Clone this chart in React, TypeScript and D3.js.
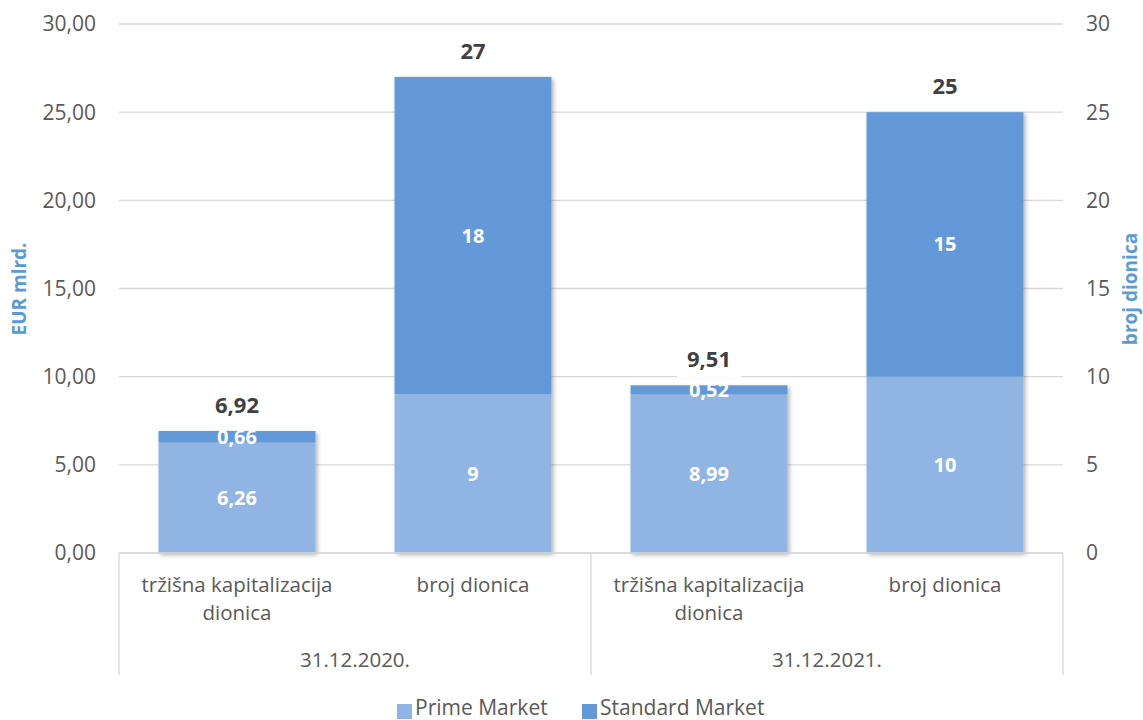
import * as d3 from "d3";

const dates = ["31.12.2020.", "31.12.2021."];
const measures = ["tržišna kapitalizacija dionica", "broj dionica"];
const seriesNames = ["Prime Market", "Standard Market"];
const seriesColors = ["#90B5E4", "#6399D9"];

// one entry per bar, in draw order
const prime = [6.26, 9, 8.99, 10];
const standard = [0.66, 18, 0.52, 15];
const totals = [6.92, 27, 9.51, 25];
const isAmount = [true, false, true, false];

const leftTicks = [0, 5, 10, 15, 20, 25, 30];

const W = 1143;
const H = 720;
const m = { top: 24, right: 80, bottom: 167, left: 119 };
const font = "'Open Sans', sans-serif";

const fmt = (v: number, dec: boolean) =>
  dec ? v.toFixed(2).replace(".", ",") : String(v);

export default function App() {
  const plotW = W - m.left - m.right;
  const y0 = H - m.bottom;

  const barKeys = dates.flatMap((d) => measures.map((c) => `${d}|${c}`));
  const x = d3.scaleBand().domain(barKeys).range([m.left, W - m.right]).paddingInner(0.335).paddingOuter(0.1675);
  const outer = d3.scaleBand().domain(barKeys).range([m.left, W - m.right]);
  const y = d3.scaleLinear().domain([0, 30]).range([y0, m.top]);

  const stacked = barKeys.map((k, i) => [
    { key: k, lo: 0, hi: prime[i], v: prime[i], s: 0 },
    { key: k, lo: prime[i], hi: prime[i] + standard[i], v: standard[i], s: 1 },
  ]);

  const groupW = plotW / dates.length;

  return (
    <svg width={W} height={H} style={{ position: "absolute", left: 0, top: 0, background: "#fff" }} fontFamily={font}>
      <defs>
        <filter id="sh" x="-10%" y="-10%" width="130%" height="130%">
          <feDropShadow dx="2" dy="2" stdDeviation="2" floodColor="#000" floodOpacity="0.3" />
        </filter>
      </defs>

      {/* gridlines */}
      {leftTicks.map((t) => (
        <line key={t} x1={m.left} x2={W - m.right} y1={y(t)} y2={y(t)} stroke="#D9D9D9" strokeWidth={1.3} />
      ))}

      {/* left ticks */}
      {leftTicks.map((t) => (
        <text key={"l" + t} x={96} y={y(t)} dy="0.35em" textAnchor="end" fontSize={21} fill="#595959">
          {fmt(t, true)}
        </text>
      ))}
      {/* right ticks */}
      {leftTicks.map((t) => (
        <text key={"r" + t} x={1086} y={y(t)} dy="0.35em" textAnchor="start" fontSize={21} fill="#595959">
          {fmt(t, false)}
        </text>
      ))}

      <text transform={`translate(26,289) rotate(-90)`} textAnchor="middle" fontSize={19} fontWeight="bold" fill="#5B9BD5">
        EUR mlrd.
      </text>
      <text transform={`translate(1137,289) rotate(-90)`} textAnchor="middle" fontSize={19} fontWeight="bold" fill="#5B9BD5">
        broj dionica
      </text>

      {/* bars */}
      {stacked.map((segs, i) => (
        <g key={i}>
          <g filter="url(#sh)">
            {segs.map((s) => (
              <rect key={s.s} x={x(s.key)!} width={x.bandwidth()} y={y(s.hi)} height={y(s.lo) - y(s.hi)} fill={seriesColors[s.s]} />
            ))}
          </g>
          {segs.map((s) => (
            <text key={"t" + s.s} x={x(s.key)! + x.bandwidth() / 2} y={(y(s.lo) + y(s.hi)) / 2} dy="0.35em" textAnchor="middle" fontSize={20} fontWeight="bold" fill="#fff">
              {fmt(s.v, isAmount[i])}
            </text>
          ))}
          <rect x={x(segs[0].key)! + x.bandwidth() / 2 - 32} y={y(totals[i]) - 46} width={64} height={38} fill="#fff" />
          <text x={x(segs[0].key)! + x.bandwidth() / 2} y={y(totals[i]) - 26} dy="0.35em" textAnchor="middle" fontSize={22} fontWeight="bold" fill="#404040">
            {fmt(totals[i], isAmount[i])}
          </text>
        </g>
      ))}

      {/* category axis */}
      <line x1={m.left} x2={W - m.right} y1={y0} y2={y0} stroke="#D9D9D9" strokeWidth={1.3} />
      {d3.range(dates.length + 1).map((j) => (
        <line key={j} x1={m.left + j * groupW} x2={m.left + j * groupW} y1={y0} y2={y0 + 122} stroke="#D9D9D9" strokeWidth={1.3} />
      ))}
      {barKeys.map((k, i) => {
        const cx = outer(k)! + outer.bandwidth() / 2;
        const c = measures[i % measures.length];
        const lines = c === measures[0] ? ["tržišna kapitalizacija", "dionica"] : [c];
        return (
          <text key={k} x={cx} y={y0 + 39} textAnchor="middle" fontSize={20.5} fill="#595959">
            {lines.map((l, li) => (
              <tspan key={li} x={cx} dy={li === 0 ? 0 : 28}>
                {l}
              </tspan>
            ))}
          </text>
        );
      })}
      {dates.map((d, j) => (
        <text key={d} x={m.left + (j + 0.5) * groupW} y={y0 + 114} textAnchor="middle" fontSize={20.5} fill="#595959">
          {d}
        </text>
      ))}

      {/* legend */}
      {seriesNames.map((s, i) => {
        const lx = [397, 582][i];
        return (
          <g key={s}>
            <rect x={lx} y={704} width={15} height={15} fill={seriesColors[i]} />
            <text x={lx + 18} y={715} fontSize={21} fill="#595959">
              {s}
            </text>
          </g>
        );
      })}
    </svg>
  );
}
